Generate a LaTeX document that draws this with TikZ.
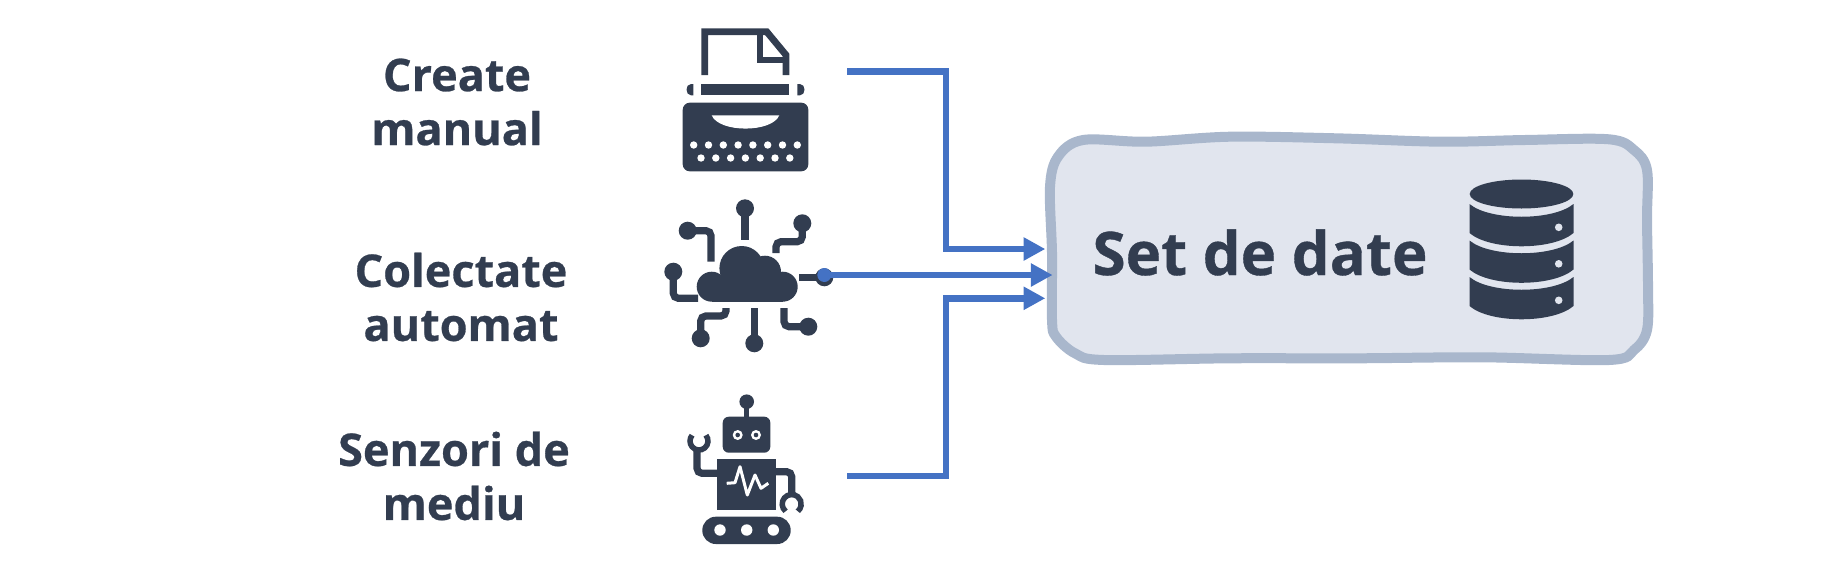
\documentclass[tikz,border=0pt]{standalone}
\usepackage{fontspec}
\setmainfont[BoldFeatures={FakeBold=0.6}]{Open Sans}
\usetikzlibrary{arrows.meta}
\definecolor{inkdark}{HTML}{323D50}
\definecolor{flowblue}{HTML}{4472C4}
\definecolor{boxedge}{HTML}{A9B7CC}
\definecolor{boxfill}{HTML}{E1E5EE}

\begin{document}
\begin{tikzpicture}[
    x=1pt, y=-1pt,
    sourcelabel/.style={text=inkdark, align=center, font=\fontsize{45}{54}\selectfont\bfseries}, % Style for left labels
    trace/.style={draw=inkdark, line width=7.2pt, rounded corners=5pt},
    flow/.style={draw=flowblue, line width=6.7pt, -{Triangle[length=21.7pt,width=22pt]}} % Style for blue connectors
]
\useasboundingbox (0,0) rectangle (1822,576);

% Left labels
\node[sourcelabel] (labelman) at (457,102) {Create\\manual};
\node[sourcelabel] (labelauto) at (461,297) {Colectate\\automat};
\node[sourcelabel] (labelsenz) at (454,476) {Senzori de\\mediu};

% Typewriter
\draw[draw=inkdark, line width=6.8pt] (704.7,75) -- (704.7,31.7) -- (766.7,31.7) -- (786,55) -- (786,75);
\draw[draw=inkdark, line width=6.8pt] (760,31.7) -- (760,60) -- (786,60);
\fill[inkdark] (701.3,84) rectangle (789.3,95.3);
\fill[inkdark] (693.3,84) -- (693.3,95.3) -- (691,95.3) .. controls (685,95.3) and (685,84) .. (691,84) -- cycle;
\fill[inkdark] (797.3,84) -- (797.3,95.3) -- (800,95.3) .. controls (806,95.3) and (806,84) .. (800,84) -- cycle;
\fill[inkdark, rounded corners=7pt] (682.7,102.7) rectangle (808.3,171.3);
\fill[white] (711.7,115.3) -- (779.3,115.3) .. controls (772,133) and (719,133) .. (711.7,115.3) -- cycle;
\foreach \k in {0,...,7} {
    \fill[white] (693.7+14.8*\k,145) circle[radius=3.7];
}
\foreach \k in {0,...,6} {
    \fill[white] (701+14.8*\k,158) circle[radius=3.7];
}

% Cloud
\fill[inkdark] (711.7,286.7) circle[radius=15];
\fill[inkdark] (741.7,268.3) circle[radius=22.3];
\fill[inkdark] (765,271.7) circle[radius=16];
\fill[inkdark] (782.7,286.7) circle[radius=15];
\fill[inkdark] (711.7,283.3) rectangle (782.7,301.7);

% Cloud traces
\draw[trace] (745,208.3) -- (745,240);
\draw[trace] (687.7,230.7) -- (711,230.7) -- (711,261.7);
\draw[trace] (802.3,223.3) -- (802.3,241.7) -- (776,241.7) -- (776,253);
\draw[trace] (673.3,271.7) -- (673.3,298.3) -- (698,298.3);
\draw[trace] (799.3,277.3) -- (824.3,277.3);
\draw[trace] (700.7,338.3) -- (700.7,316) -- (726,316) -- (726,308);
\draw[trace] (754.3,308) -- (754.3,343.3);
\draw[trace] (784,308) -- (784,326.7) -- (808.3,326.7);
\foreach \px/\py in {745/208.3, 687.7/230.7, 802.3/223.3, 673.3/271.7, 824.3/277.3, 700.7/338.3, 754.3/343.3, 808.3/326.7} {
    \fill[inkdark] (\px,\py) circle[radius=9];
}

% Robot
\fill[inkdark] (746.7,401.7) circle[radius=7.3];
\fill[inkdark] (744.2,402) rectangle (749.2,418);
\fill[inkdark, rounded corners=6pt] (722.7,416.7) rectangle (770.3,452.7);
\foreach \px in {737.7,756} {
    \fill[white] (\px,435) circle[radius=5];
    \fill[inkdark] (\px,435) circle[radius=2.3];
}
\fill[inkdark] (717.3,459) rectangle (776,510);
\draw[white, line width=3pt, line join=round] (726.7,483.3) -- (735,482.7) -- (740,466.7) -- (747.3,495) -- (755,475) -- (761,488.3) -- (768.3,483.3);
\draw[trace] (717.3,473.3) -- (697,473.3) -- (697,450);
\draw[trace] (776,471.7) -- (791.7,471.7) -- (791.7,497);
\draw[draw=inkdark, line width=5.5pt] (699,441) ++(-40:9) arc[start angle=-40, end angle=220, radius=9];
\draw[draw=inkdark, line width=5.5pt] (791.7,504) ++(130:9.5) arc[start angle=130, end angle=410, radius=9.5];
\fill[inkdark, rounded corners=13.5pt] (702.3,516.7) rectangle (790.7,544);
\foreach \px in {720,746.7,773.3} {
    \fill[white] (\px,530) circle[radius=5.7];
}

% Data set box - using plot smooth cycle for the uneven outline
\node (setbox) at (1349,249) [minimum width=597pt, minimum height=224pt] {};
\draw[draw=boxedge, fill=boxfill, line width=10pt] plot [smooth cycle, tension=0.55] coordinates {
    (1083,140) (1146,141.7) (1230,136.7) (1336,138.3) (1441,141.7) (1525,140) (1609,139.3) (1634,150)
    (1647,170) (1647,220) (1648,286.7) (1647,330) (1634,350) (1609,360) (1483,357.3) (1357,358.3)
    (1230,358.3) (1104,360) (1075,353.3) (1056,336.7) (1052,320) (1052,253) (1050,186.7) (1058,156.7)
};
\node[anchor=base, text=inkdark, font=\fontsize{60}{70}\selectfont\bfseries] (setlabel) at (1260,275) {Set de date};

% Database icon
\fill[inkdark] (1521.5,194) ellipse[x radius=51.8, y radius=14.5];
\foreach \dy in {0,36.5,73} {
    \fill[inkdark] (1469.5,204+\dy) .. controls (1490,221+\dy) and (1553,221+\dy) .. (1573.5,204+\dy)
        -- (1573.5,233+\dy) .. controls (1553,250.7+\dy) and (1490,250.7+\dy) .. (1469.5,233+\dy) -- cycle;
    \fill[boxfill] (1558.7,227.3+\dy) circle[radius=3.8];
}

% Connectors
\coordinate (outman) at (847,71.7);
\coordinate (outauto) at (824.3,275);
\coordinate (outsenz) at (847,476);
\coordinate (busx) at (946,283);
\coordinate (inman) at ([xshift=-5pt]setbox.west);
\coordinate (inauto) at ([xshift=2.3pt,yshift=-26pt]setbox.west);
\coordinate (insenz) at ([xshift=-5pt,yshift=-49.3pt]setbox.west);
\draw[flow] (outman) -- (outman -| busx) -- (busx |- inman) -- (inman);
\draw[flow] (outsenz) -- (outsenz -| busx) -- (busx |- insenz) -- (insenz);
\fill[flowblue] (outauto) circle[radius=7];
\draw[flow] (outauto) -- (inauto);

\end{tikzpicture}
\end{document}
